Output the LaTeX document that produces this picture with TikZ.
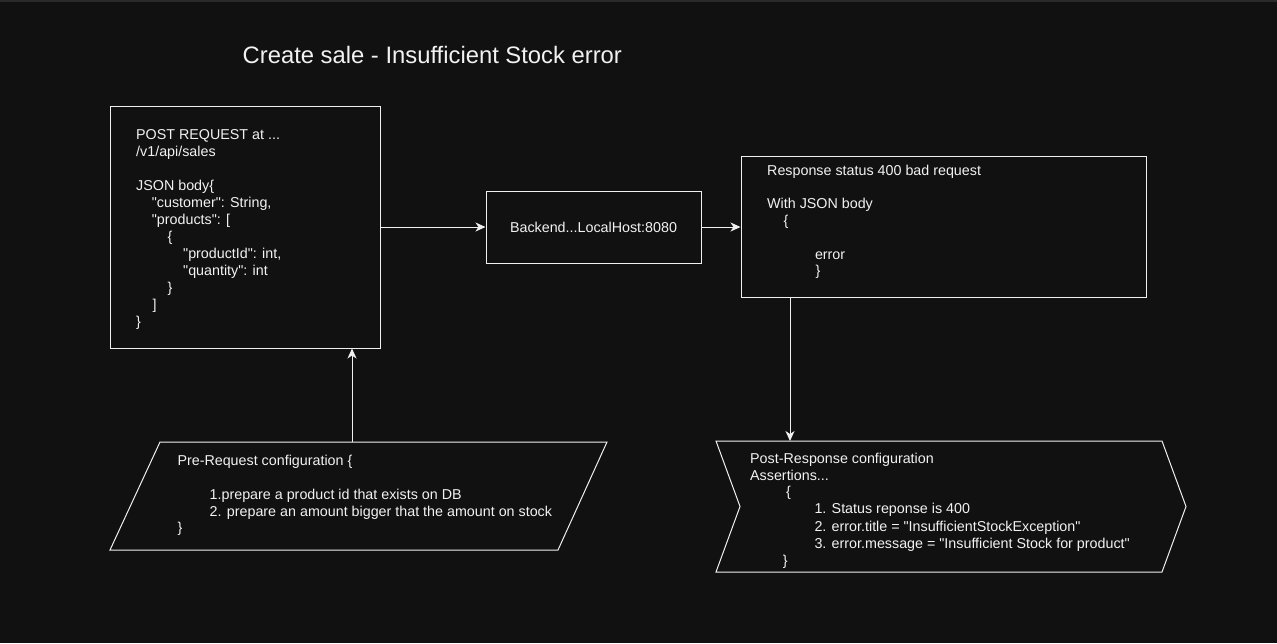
\documentclass[tikz,border=0pt]{standalone}
\usepackage{fontspec}
\setmainfont{Liberation Sans}[Ligatures=TeXOff]
\usetikzlibrary{arrows.meta}
\definecolor{bg}{HTML}{111111}
\definecolor{fg}{HTML}{F2F2F2}
\definecolor{topbar}{HTML}{2A2A2A}
\definecolor{ln}{HTML}{F0F0F0}
\begin{document}
\begin{tikzpicture}[x=1pt,y=-1pt,
  shapeline/.style={draw=ln, line width=1pt},
  box/.style={shapeline, fill=bg, rectangle, inner sep=0pt},
  txt/.style={anchor=base west, inner sep=0pt, text=fg, font=\fontsize{14.3}{16.8}\selectfont},
  titletxt/.style={anchor=base west, inner sep=0pt, text=fg, font=\fontsize{23.8}{28}\selectfont},
  arr/.style={draw=ln, line width=1pt, -{Stealth[length=10pt,width=9pt,inset=3pt]}}]
\useasboundingbox (0,0) rectangle (1277,643);
\fill[bg] (0,0) rectangle (1277,643);
\fill[topbar] (0,0) rectangle (1277,2);

% title
\node[titletxt] (title) at (242.5,63.5) {Create sale - Insufficient Stock error};

% boxes
\node[box, minimum width=270pt, minimum height=242pt] (req) at (245,227) {};
\node[box, minimum width=215pt, minimum height=72pt] (backend) at (593.5,227) {};
\node[box, minimum width=405pt, minimum height=141pt] (resp) at (943.5,226.5) {};

% parallelogram
\coordinate (pre1) at (160,442);
\coordinate (pre2) at (607,442);
\coordinate (pre3) at (558,550);
\coordinate (pre4) at (110,550);
\draw[shapeline, fill=bg] (pre1) -- (pre2) -- (pre3) -- (pre4) -- cycle;
\coordinate (pretop) at (352,442);

% chevron
\coordinate (post1) at (716,441);
\coordinate (post2) at (1162,441);
\coordinate (post3) at (1186,506.5);
\coordinate (post4) at (1162,572);
\coordinate (post5) at (716,572);
\coordinate (post6) at (740,506.5);
\draw[shapeline, fill=bg] (post1) -- (post2) -- (post3) -- (post4) -- (post5) -- (post6) -- cycle;
\coordinate (posttop) at (790,441);

% connectors
\draw[arr] (req.east) -- (backend.west);
\draw[arr] (backend.east) -- (backend.east -| resp.west);
\draw[arr] (posttop |- resp.south) -- (posttop);
\draw[arr] (pretop) -- (pretop |- req.south);

% request text
\node[txt] (r1) at (136,139.3) {POST REQUEST at ...};
\node[txt] (r2) at (136,156.3) {/v1/api/sales};
\node[txt] (r3) at (136,190.3) {JSON body\{};
\node[txt] (r4) at (151.7,207.3) {"customer": String,};
\node[txt] (r5) at (151.7,224.3) {"products": [};
\node[txt] (r6) at (167.5,241.3) {\{};
\node[txt] (r7) at (183,258.3) {"productId": int,};
\node[txt] (r8) at (183,275.3) {"quantity": int};
\node[txt] (r9) at (167.5,292.3) {\}};
\node[txt] (r10) at (152.5,309.3) {]};
\node[txt] (r11) at (136,326.3) {\}};

% backend text
\node[txt, anchor=center] (btxt) at (backend.center) {Backend...LocalHost:8080};

% response text
\node[txt] (s1) at (767,175) {Response status 400 bad request};
\node[txt] (s2) at (767,208.5) {With JSON body};
\node[txt] (s3) at (783.5,225.3) {\{};
\node[txt] (s4) at (814.8,259) {error};
\node[txt] (s5) at (815.5,275.8) {\}};

% pre-request text
\node[txt] (p1) at (177.3,465.7) {Pre-Request configuration \{};
\node[txt] (p2) at (209.5,499.3) {1.prepare a product id that exists on DB};
\node[txt] (p3) at (209.5,516.1) {2. prepare an amount bigger that the amount on stock};
\node[txt] (p4) at (177.3,532.9) {\}};

% post-response text
\node[txt] (q1) at (750,463.3) {Post-Response configuration};
\node[txt] (q2) at (750,480.1) {Assertions...};
\node[txt] (q3) at (786,496.9) {\{};
\node[txt] (q4) at (814.3,513.9) {1. Status reponse is 400};
\node[txt] (q5) at (814.3,531) {2. error.title = "InsufficientStockException"};
\node[txt] (q6) at (814.3,548.2) {3. error.message = "Insufficient Stock for product"};
\node[txt] (q7) at (782.7,565) {\}};
\end{tikzpicture}
\end{document}
